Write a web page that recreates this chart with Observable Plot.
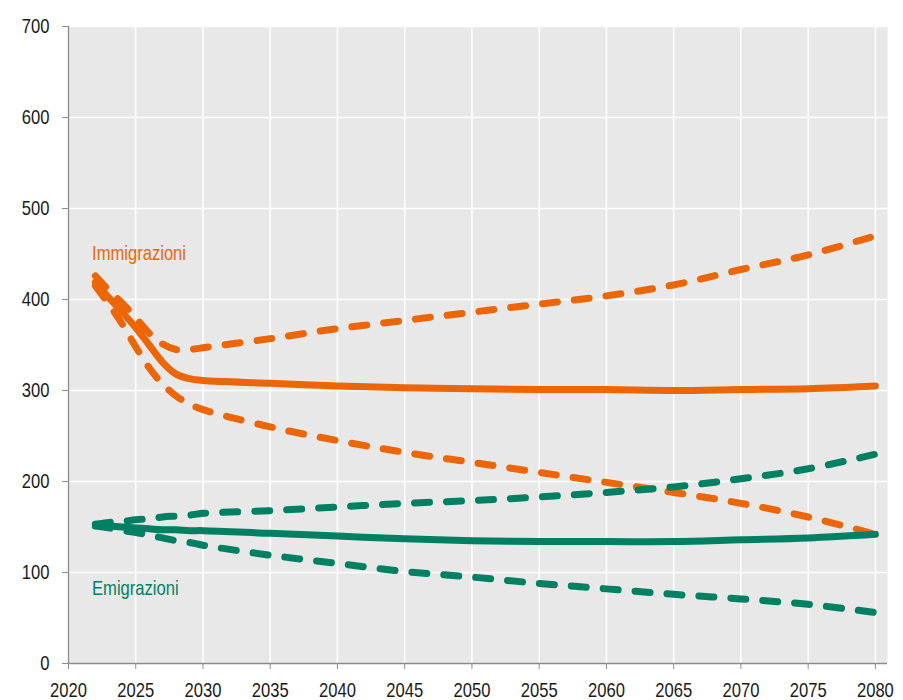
<!DOCTYPE html>
<html>
<head>
<meta charset="utf-8">
<script src="https://cdn.jsdelivr.net/npm/d3@7"></script>
<script src="https://cdn.jsdelivr.net/npm/@observablehq/plot@0.6"></script>
<style>
  html, body { margin: 0; padding: 0; background: #ffffff; }
  #chart svg { display: block; }
</style>
</head>
<body>
<div id="chart"></div>
<script>
// Years of the projection
const years = [2022, 2023, 2024, 2025, 2026, 2027, 2028, 2029, 2030, 2035, 2040, 2045, 2050, 2055, 2060, 2065, 2070, 2075, 2080];

// Immigrazioni (thousands)
const immCentral = [419, 402, 386, 369, 350, 331, 318, 313, 311, 308, 305, 303, 302, 301, 301, 300, 301, 302, 305];
const immHigh    = [426, 410, 396, 380, 363, 351, 345, 345, 347, 357, 368, 377, 386, 395, 404, 416, 433, 449, 470];
const immLow     = [415, 395, 373, 348, 325, 307, 294, 285, 279, 260, 245, 232, 221, 210, 199, 188, 176, 161, 142];

// Emigrazioni (thousands)
const emiCentral = [152, 151, 150, 149, 148, 147, 147, 146, 146, 143, 140, 137, 135, 134, 134, 134, 136, 138, 142];
const emiHigh    = [153, 155, 156, 158, 159, 161, 162, 163, 165, 168, 172, 176, 179, 183, 188, 194, 203, 214, 230];
const emiLow     = [151, 149, 146, 144, 141, 138, 135, 133, 130, 119, 110, 101, 95, 88, 82, 76, 71, 65, 56];

// Axis ticks
const xTicks = [2020, 2025, 2030, 2035, 2040, 2045, 2050, 2055, 2060, 2065, 2070, 2075, 2080];
const yTicks = [0, 100, 200, 300, 400, 500, 600, 700];

// Series labels (data coordinates)
const labelNames = ["Immigrazioni", "Emigrazioni"];
const labelYears = [2021.75, 2021.75];
const labelValues = [450, 82];

const ORANGE = "#ec6608";
const GREEN = "#008063";
const FONT = "'Liberation Sans', Arial, sans-serif";
const NARROW = 0.83; // horizontal squeeze to mimic a narrow typeface

function toRows(values, series, scenario) {
  return years.map((y, i) => ({year: y, value: values[i], series, scenario}));
}

const immSolid = toRows(immCentral, "imm", "central");
const immDashed = [...toRows(immHigh, "imm", "high"), ...toRows(immLow, "imm", "low")];
const emiSolid = toRows(emiCentral, "emi", "central");
const emiDashed = [...toRows(emiHigh, "emi", "high"), ...toRows(emiLow, "emi", "low")];

const labels = labelNames.map((n, i) => ({name: n, year: labelYears[i], value: labelValues[i]}));

const lineStyle = {x: "year", y: "value", strokeWidth: 7, strokeLinecap: "round", strokeLinejoin: "round", curve: "catmull-rom"};
const dash = "15,17";

const chart = Plot.plot({
  width: 903,
  height: 700,
  marginLeft: 68,
  marginRight: 16,
  marginTop: 26,
  marginBottom: 37,
  style: {fontFamily: FONT, fontSize: "20px", background: "#ffffff", color: "#1a1a1a"},
  x: {domain: [2020, 2080.9], label: null},
  y: {domain: [0, 700], label: null},
  marks: [
    Plot.frame({fill: "#e8e8e8", stroke: null}),
    Plot.gridX(xTicks.filter(d => d > 2020), {stroke: "#ffffff", strokeOpacity: 1, strokeWidth: 1.5}),
    Plot.gridY(yTicks.filter(d => d > 0), {stroke: "#ffffff", strokeOpacity: 1, strokeWidth: 1.5}),
    Plot.ruleX([2020], {stroke: "#8c8c8c", strokeWidth: 1.3}),
    Plot.ruleY([0], {stroke: "#8c8c8c", strokeWidth: 1.3}),
    Plot.axisX({ticks: xTicks, tickFormat: d => String(d), tickSize: 6, tickPadding: 13, stroke: "#8c8c8c", fill: "#1a1a1a", label: null}),
    Plot.axisY({ticks: yTicks, tickFormat: d => String(d), tickSize: 6, tickPadding: 13, stroke: "#8c8c8c", fill: "#1a1a1a", label: null}),
    Plot.line(immDashed, {...lineStyle, z: "scenario", stroke: ORANGE, strokeDasharray: dash}),
    Plot.line(immSolid, {...lineStyle, stroke: ORANGE}),
    Plot.line(emiDashed, {...lineStyle, z: "scenario", stroke: GREEN, strokeDasharray: dash}),
    Plot.line(emiSolid, {...lineStyle, stroke: GREEN}),
    Plot.text(labels, {x: "year", y: "value", text: "name", textAnchor: "start", fontSize: 20, fill: (d) => d.name === "Immigrazioni" ? ORANGE : GREEN})
  ]
});

// Squeeze every text horizontally around its own anchor point
chart.querySelectorAll("text").forEach(t => {
  const x = parseFloat(t.getAttribute("x")) || 0;
  const tr = t.getAttribute("transform") || "";
  t.removeAttribute("x");
  t.setAttribute("transform", `${tr} translate(${x},0) scale(${NARROW},1)`);
});

document.getElementById("chart").appendChild(chart);
</script>
</body>
</html>
